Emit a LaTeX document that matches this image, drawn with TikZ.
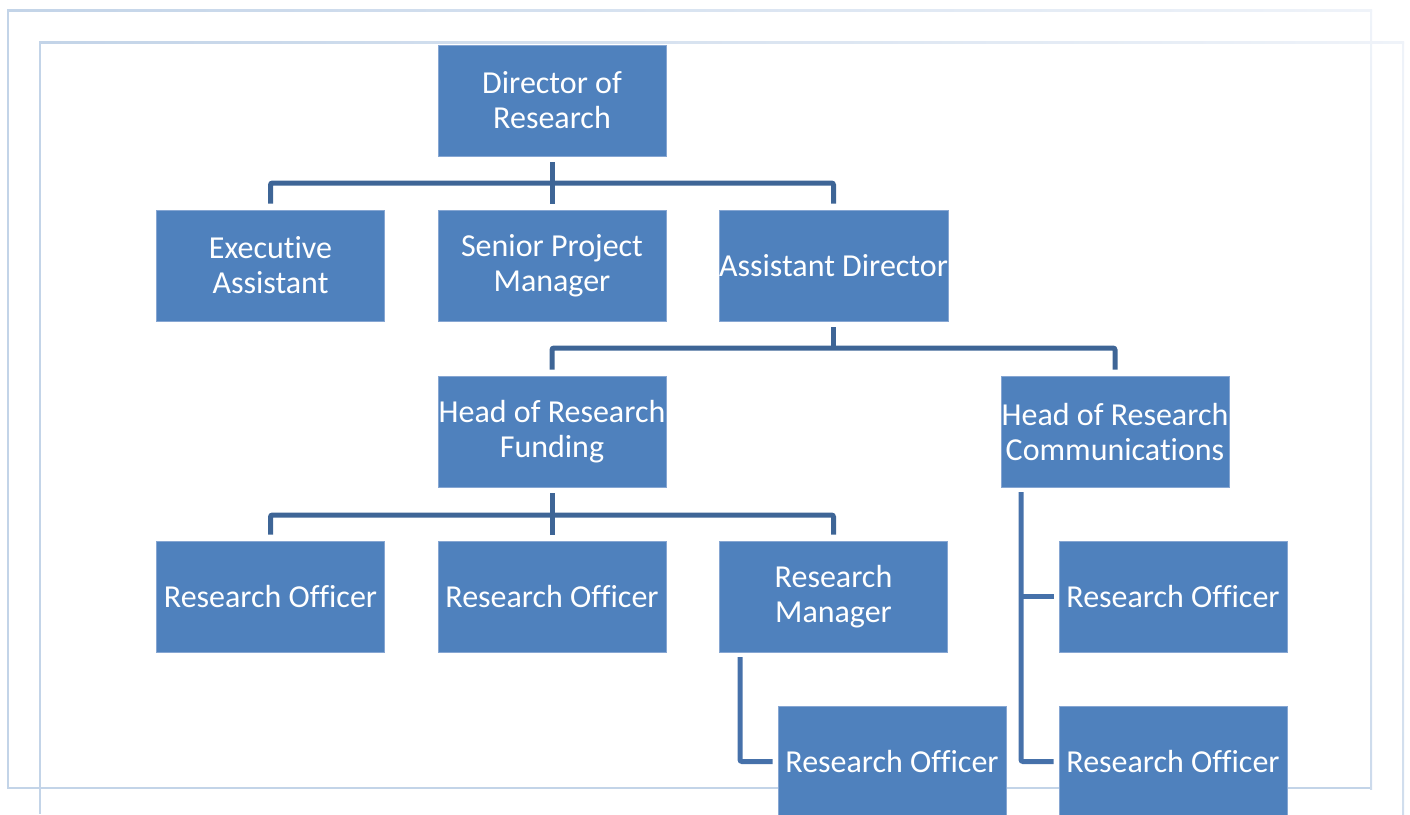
\documentclass[tikz,border=0pt]{standalone}
\usepackage{fontspec}
\setmainfont{Carlito}[Ligatures=NoCommon]
\definecolor{boxblue}{HTML}{4F81BD}
\definecolor{boxedge}{HTML}{86A6D2}
\definecolor{connA}{HTML}{3E6596}
\definecolor{connB}{HTML}{4671AA}
\definecolor{frameA}{HTML}{C3D4E8}
\definecolor{frameB}{HTML}{EFF3F9}
\tikzset{
  orgbox/.style={rectangle, fill=boxblue, draw=boxedge, line width=0.8pt,
    minimum width=228pt, minimum height=111pt, inner sep=0pt,
    text=white, align=center, font=\fontsize{32}{35}\selectfont},
  conn/.style={draw=connA, line width=5pt, rounded corners=2pt},
  connb/.style={draw=connB, line width=5pt, rounded corners=2pt},
  frameline/.style={draw=frameA, line width=2pt}
}
\begin{document}
\begin{tikzpicture}[x=1pt,y=-1pt]
\useasboundingbox (0,0) rectangle (1410,814);
\clip (0,0) rectangle (1410,814);
% frames
\shade[left color=frameA, right color=frameB] (7,9) rectangle (1372,11);
\shade[left color=frameA, right color=frameB] (39,41) rectangle (1404,43);
\draw[frameline] (8,10) -- (8,788) -- (1371,788);
\shade[top color=frameB, bottom color=frameA!80!frameB] (1370,10) rectangle (1372,789);
\draw[frameline] (40,42) -- (40,814);
\shade[top color=frameB, bottom color=frameA!70!frameB] (1402,42) rectangle (1404,814);
% nodes
\node[orgbox] (dir) at (552,100.5) {Director of\\Research};
\node[orgbox] (ea) at (270.5,265.5) {Executive\\Assistant};
\node[orgbox] (spm) at (552,265.5) {Senior Project\\Manager};
\node[orgbox] (ad) at (833.5,265.5) {Assistant Director};
\node[orgbox] (hrf) at (552,431.5) {Head of Research\\Funding};
\node[orgbox] (hrc) at (1115,431.5) {Head of Research\\Communications};
\node[orgbox] (ro1) at (270.5,596.5) {Research Officer};
\node[orgbox] (ro2) at (552,596.5) {Research Officer};
\node[orgbox] (rm) at (833.5,596.5) {Research\\Manager};
\node[orgbox] (ro3) at (1173,596.5) {Research Officer};
\node[orgbox] (ro4) at (892,761.5) {Research Officer};
\node[orgbox] (ro5) at (1173,761.5) {Research Officer};
% connectors
\coordinate (b1) at (552,183);
\coordinate (b2) at (833.5,348);
\coordinate (b3) at (552,515);
\draw[conn] ([yshift=-6pt]dir.south) -- ([yshift=6pt]spm.north);
\draw[conn] ([yshift=6pt]ea.north) |- (b1) -| ([yshift=6pt]ad.north);
\draw[conn] ([yshift=-6pt]ad.south) -- (b2);
\draw[conn] ([yshift=6pt]hrf.north) |- (b2) -| ([yshift=6pt]hrc.north);
\draw[conn] ([yshift=-6pt]hrf.south) -- ([yshift=6pt]ro2.north);
\draw[conn] ([yshift=6pt]ro1.north) |- (b3) -| ([yshift=6pt]rm.north);
\coordinate (rmtop) at (740,657);
\coordinate (hrctop) at (1021,492);
\draw[connb] (rmtop) |- ([xshift=-5pt]ro4.west);
\draw[connb] (hrctop) |- ([xshift=-5pt]ro5.west);
\draw[connb] (hrctop |- ro3.west) -- ([xshift=-5pt]ro3.west);
\end{tikzpicture}
\end{document}
